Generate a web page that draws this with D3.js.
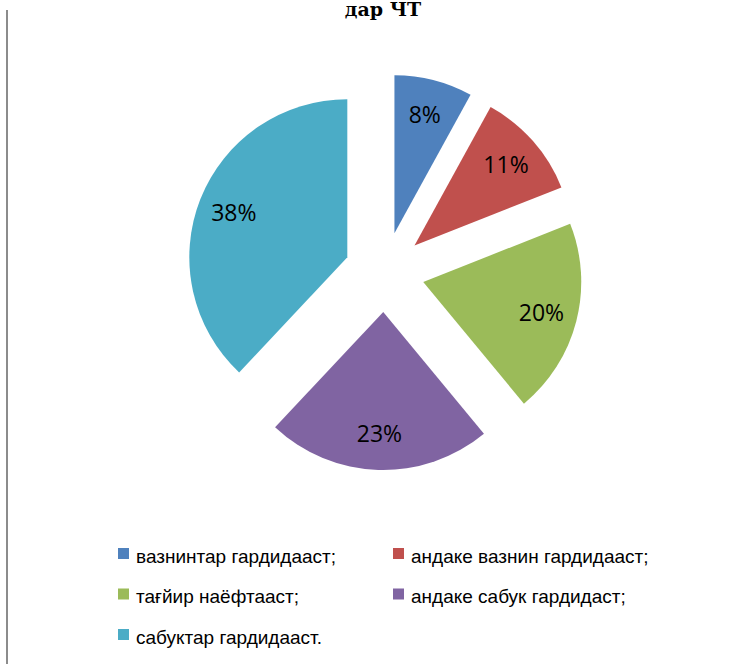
<!DOCTYPE html>
<html lang="tg">
<head>
    <meta charset="UTF-8">
    <title>дар ЧТ</title>
    <script src="https://d3js.org/d3.v7.min.js"></script>
    <style>
        body { margin: 0; background: #fff; }
    </style>
</head>
<body>
    <script>
        // exploded pie, slices start at 12 o'clock and go clockwise
        var w = 754;
        var h = 664;

        var categories = [
            'вазнинтар гардидааст;',
            'андаке вазнин гардидааст;',
            'тағйир наёфтааст;',
            'андаке сабук гардидаст;',
            'сабуктар гардидааст.'
        ];
        var values = [8, 11, 20, 23, 38];
        var valueLabels = ['8%', '11%', '20%', '23%', '38%'];
        var colors = ['#4F81BD', '#C0504D', '#9BBB59', '#8064A2', '#4BACC6'];

        var cx = 384.5;
        var cy = 272;
        var radius = 158;
        var explode = 40;
        var labelR = 122;

        var svg = d3.select('body')
                    .append('svg')
                    .attr('width', w)
                    .attr('height', h);

        // chart border (only the left edge shows)
        svg.append('line')
           .attr('x1', 7).attr('x2', 7)
           .attr('y1', 10).attr('y2', h)
           .attr('stroke', '#8c8c8c')
           .attr('stroke-width', 2);

        // second line of the title, cut off by the top edge like in the original
        svg.append('text')
           .attr('x', 383)
           .attr('y', 16)
           .attr('text-anchor', 'middle')
           .attr('font-family', 'DejaVu Serif')
           .attr('font-weight', 'bold')
           .attr('font-size', 19)
           .attr('fill', '#000')
           .text('дар ЧТ');

        var pie = d3.pie().sort(null).value(function(d) { return d; });
        var arcs = pie(values);

        var arc = d3.arc().innerRadius(0).outerRadius(radius);
        var labelArc = d3.arc().innerRadius(labelR).outerRadius(labelR);

        function offset(d) {
            var a = (d.startAngle + d.endAngle) / 2;
            return [cx + explode * Math.sin(a), cy - explode * Math.cos(a)];
        }

        var slices = svg.selectAll('.slice')
           .data(arcs)
           .enter()
           .append('g')
           .attr('class', 'slice')
           .attr('transform', function(d) {
               var o = offset(d);
               return 'translate(' + o[0] + ',' + o[1] + ')';
           });

        slices.append('path')
           .attr('d', arc)
           .attr('fill', function(d, i) { return colors[i]; });

        slices.append('text')
           .attr('transform', function(d) {
               return 'translate(' + labelArc.centroid(d) + ')';
           })
           .attr('text-anchor', 'middle')
           .attr('dy', '0.36em')
           .attr('font-family', 'Open Sans')
           .attr('font-size', 23)
           .attr('fill', '#000')
           .text(function(d, i) { return valueLabels[i]; });

        // legend: two columns, three rows
        var legendX = [118, 393];
        var legendY = [556, 596.5, 637];

        var legend = svg.selectAll('.legend')
           .data(categories)
           .enter()
           .append('g')
           .attr('class', 'legend')
           .attr('transform', function(d, i) {
               return 'translate(' + legendX[i % 2] + ',' + legendY[Math.floor(i / 2)] + ')';
           });

        legend.append('rect')
           .attr('x', 0)
           .attr('y', -8)
           .attr('width', 11)
           .attr('height', 11)
           .attr('fill', function(d, i) { return colors[i]; });

        legend.append('text')
           .attr('x', 18)
           .attr('y', 0)
           .attr('dy', '0.35em')
           .attr('font-family', 'Liberation Sans')
           .attr('font-size', 19)
           .attr('fill', '#000')
           .text(function(d) { return d; });
    </script>
</body>
</html>
